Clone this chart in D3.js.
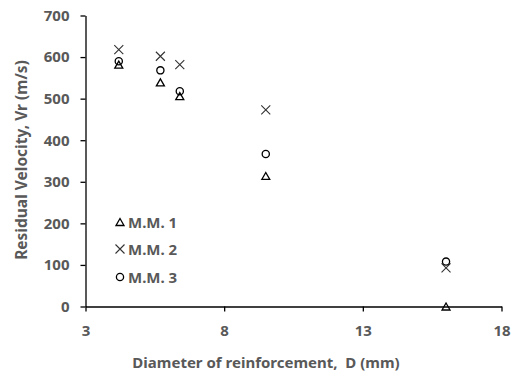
<!DOCTYPE html>
<html>
<head>
<meta charset="utf-8">
<script src="https://d3js.org/d3.v7.min.js"></script>
<style>
  body { margin: 0; background: #fff; }
  text { font-family: "Noto Sans", "DejaVu Sans", sans-serif; font-weight: bold; fill: #595959; }
</style>
</head>
<body>
<svg id="chart" width="524" height="374"></svg>
<script>
var diameters = [4.2, 5.7, 6.4, 9.5, 16];
var mm1 = [582, 539, 506, 314, 0];
var mm2 = [618, 602, 582, 473, 93];
var mm3 = [590, 568, 518, 367, 108];
var seriesNames = ["M.M. 1", "M.M. 2", "M.M. 3"];
var xTicks = [3, 8, 13, 18];
var yTicks = [0, 100, 200, 300, 400, 500, 600, 700];

var svg = d3.select('#chart');
var x = d3.scaleLinear().domain([3, 18]).range([85.5, 501.5]);
var y = d3.scaleLinear().domain([0, 700]).range([306.5, 15.5]);

// axes
var gx = svg.append('g').attr('transform', 'translate(0,' + y(0) + ')')
  .call(d3.axisBottom(x).tickValues(xTicks).tickSize(5).tickSizeOuter(0).tickPadding(14));
var gy = svg.append('g').attr('transform', 'translate(' + x(3) + ',0)')
  .call(d3.axisLeft(y).tickValues(yTicks).tickSize(5).tickSizeOuter(0).tickPadding(11));
[gx, gy].forEach(function(g) {
  g.select('.domain').attr('stroke', '#000').attr('stroke-width', 1.3);
  g.selectAll('.tick line').attr('stroke', '#000').attr('stroke-width', 1.3);
  g.selectAll('.tick text').style('font-size', '15px').style('font-family', '"Noto Sans", sans-serif')
    .style('font-weight', 'bold').attr('fill', '#595959');
});

// axis titles
svg.append('text').attr('x', 266).attr('y', 368).attr('text-anchor', 'middle')
  .style('font-size', '15px').style('white-space', 'pre').text('Diameter of reinforcement,  D (mm)');
svg.append('text').attr('transform', 'translate(27,160) rotate(-90)').attr('text-anchor', 'middle')
  .style('font-size', '15.5px').text('Residual Velocity, Vr (m/s)');

// markers
function drawTri(g, cx, cy) {
  g.append('path').attr('d', 'M' + (cx - 4) + ',' + (cy + 3.5) + 'L' + cx + ',' + (cy - 3.5) + 'L' + (cx + 4) + ',' + (cy + 3.5) + 'Z')
    .attr('fill', 'none').attr('stroke', '#000').attr('stroke-width', 1.3);
}
function drawX(g, cx, cy) {
  g.append('path').attr('d', 'M' + (cx - 4.5) + ',' + (cy - 4.5) + 'L' + (cx + 4.5) + ',' + (cy + 4.5) +
    'M' + (cx - 4.5) + ',' + (cy + 4.5) + 'L' + (cx + 4.5) + ',' + (cy - 4.5))
    .attr('fill', 'none').attr('stroke', '#333').attr('stroke-width', 1.1);
}
function drawO(g, cx, cy) {
  g.append('circle').attr('cx', cx).attr('cy', cy).attr('r', 3.6)
    .attr('fill', 'none').attr('stroke', '#000').attr('stroke-width', 1.3);
}
var drawers = [drawTri, drawX, drawO];
var series = [mm1, mm2, mm3];

var pts = svg.append('g');
series.forEach(function(vals, s) {
  vals.forEach(function(v, i) {
    drawers[s](pts, x(diameters[i]), y(v));
  });
});

// legend
var legY = [222, 249, 277];
var leg = svg.append('g');
seriesNames.forEach(function(n, s) {
  drawers[s](leg, 120, legY[s]);
  leg.append('text').attr('x', 128).attr('y', legY[s] + 5.5).style('font-size', '15px').text(n);
});
</script>
</body>
</html>
